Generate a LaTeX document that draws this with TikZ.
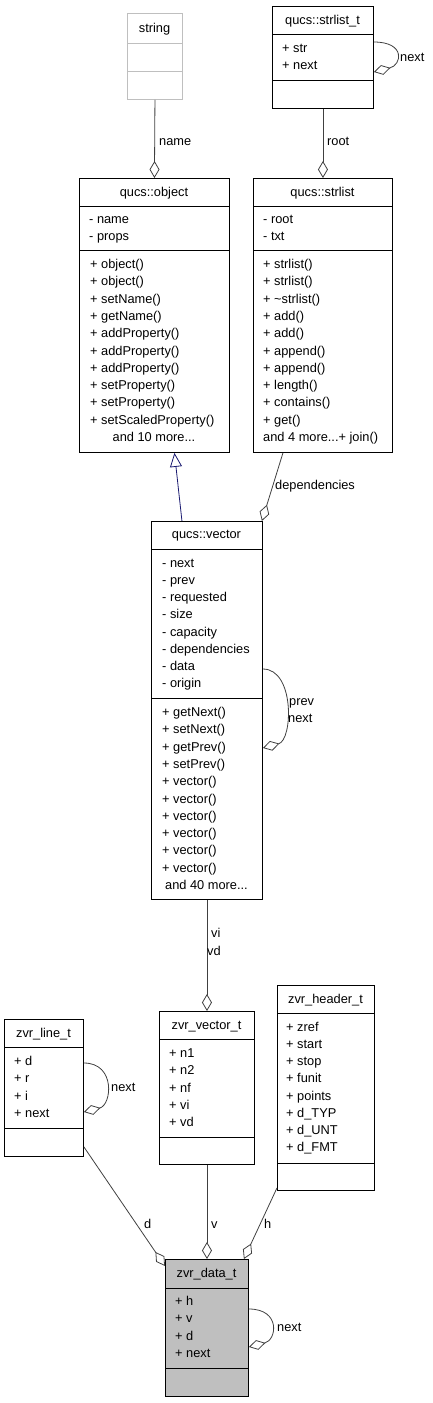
\documentclass[tikz,border=0pt]{standalone}
\usepackage{fontspec}
\setmainfont{Liberation Sans}
\usetikzlibrary{arrows.meta,calc}
\definecolor{navyline}{HTML}{191970}
\definecolor{edgegray}{HTML}{404040}

\begin{document}
\begin{tikzpicture}[x=1pt,y=-1pt,font=\fontsize{12.8}{15}\selectfont,
  cls/.style={draw=black,line width=0.9pt,fill=white,inner sep=0pt,anchor=north west},
  ttl/.style={anchor=base,inner sep=0pt},
  row/.style={anchor=base west,inner sep=0pt},
  lbl/.style={anchor=base west,inner sep=0pt},
  sep/.style={draw=black,line width=0.9pt},
  link/.style={draw=edgegray,line width=0.8pt},
  agg/.style={link,-{Diamond[open,length=17pt,width=10pt]}},
  inherit/.style={draw=navyline,line width=0.8pt,-{Triangle[open,length=14pt,width=12pt]}}]
\useasboundingbox (0,0) rectangle (432,1403);

% string
\node[cls,draw=black!25,minimum width=55pt,minimum height=86pt] (str) at (127,13) {};
\draw[sep,draw=black!25] (str.west |- 0,43) -- (str.east |- 0,43);
\draw[sep,draw=black!25] (str.west |- 0,71) -- (str.east |- 0,71);
\node[ttl] (str-n) at (154.5,32.5) {string};

% qucs::strlist_t
\node[cls,minimum width=101pt,minimum height=102pt] (slt) at (272,6) {};
\draw[sep] (slt.west |- 0,34) -- (slt.east |- 0,34);
\draw[sep] (slt.west |- 0,80) -- (slt.east |- 0,80);
\node[ttl] (slt-n) at (322.5,24.5) {qucs::strlist\_t};
\foreach \a [count=\i from 0] in {+ str,+ next}
  \node[row] (slt-a\i) at (282,52.5+16.5*\i) {\a};

% qucs::object
\node[cls,minimum width=150pt,minimum height=274pt] (obj) at (79,178) {};
\draw[sep] (obj.west |- 0,206) -- (obj.east |- 0,206);
\draw[sep] (obj.west |- 0,250) -- (obj.east |- 0,250);
\node[ttl] (obj-n) at (154,196.5) {qucs::object};
\foreach \a [count=\i from 0] in {- name,- props}
  \node[row] (obj-a\i) at (89,223.5+17*\i) {\a};
\foreach \m [count=\i from 0] in {+ object(),+ object(),+ setName(),+ getName(),
    + addProperty(),+ addProperty(),+ addProperty(),+ setProperty(),
    + setProperty(),+ setScaledProperty()}
  \node[row] (obj-m\i) at (90,268.5+17.3*\i) {\m};
\node[ttl] (obj-more) at (154,441.5) {and 10 more...};

% qucs::strlist
\node[cls,minimum width=139pt,minimum height=274pt] (stl) at (253,178) {};
\draw[sep] (stl.west |- 0,206) -- (stl.east |- 0,206);
\draw[sep] (stl.west |- 0,250) -- (stl.east |- 0,250);
\node[ttl] (stl-n) at (322.5,196.5) {qucs::strlist};
\foreach \a [count=\i from 0] in {- root,- txt}
  \node[row] (stl-a\i) at (263,223.5+17*\i) {\a};
\foreach \m [count=\i from 0] in {+ strlist(),+ strlist(),+ \textasciitilde strlist(),
    + add(),+ add(),+ append(),+ append(),+ length(),+ contains(),+ get()}
  \node[row] (stl-m\i) at (263,268.5+17.3*\i) {\m};
\node[row] (stl-more) at (263,441.5) {and 4 more...+ join()};

% qucs::vector
\node[cls,minimum width=111pt,minimum height=378pt] (vec) at (151,521) {};
\draw[sep] (vec.west |- 0,549) -- (vec.east |- 0,549);
\draw[sep] (vec.west |- 0,698) -- (vec.east |- 0,698);
\node[ttl] (vec-n) at (206.5,538.5) {qucs::vector};
\foreach \a [count=\i from 0] in {- next,- prev,- requested,- size,- capacity,
    - dependencies,- data,- origin}
  \node[row] (vec-a\i) at (162,567.5+17.14*\i) {\a};
\foreach \m [count=\i from 0] in {+ getNext(),+ setNext(),+ getPrev(),+ setPrev(),
    + vector(),+ vector(),+ vector(),+ vector(),+ vector(),+ vector()}
  \node[row] (vec-m\i) at (162,716.5+17.3*\i) {\m};
\node[ttl] (vec-more) at (206.5,889.5) {and 40 more...};

% zvr_line_t
\node[cls,minimum width=79pt,minimum height=137pt] (zvl) at (4,1019) {};
\draw[sep] (zvl.west |- 0,1047) -- (zvl.east |- 0,1047);
\draw[sep] (zvl.west |- 0,1128) -- (zvl.east |- 0,1128);
\node[ttl] (zvl-n) at (43.5,1037.5) {zvr\_line\_t};
\foreach \a [count=\i from 0] in {+ d,+ r,+ i,+ next}
  \node[row] (zvl-a\i) at (14,1065.5+17.3*\i) {\a};

% zvr_vector_t
\node[cls,minimum width=95pt,minimum height=153pt] (zvv) at (159,1011) {};
\draw[sep] (zvv.west |- 0,1039) -- (zvv.east |- 0,1039);
\draw[sep] (zvv.west |- 0,1137) -- (zvv.east |- 0,1137);
\node[ttl] (zvv-n) at (206.5,1029.5) {zvr\_vector\_t};
\foreach \a [count=\i from 0] in {+ n1,+ n2,+ nf,+ vi,+ vd}
  \node[row] (zvv-a\i) at (169,1057.5+17.3*\i) {\a};

% zvr_header_t
\node[cls,minimum width=97pt,minimum height=205pt] (zvh) at (277,985) {};
\draw[sep] (zvh.west |- 0,1013) -- (zvh.east |- 0,1013);
\draw[sep] (zvh.west |- 0,1163) -- (zvh.east |- 0,1163);
\node[ttl] (zvh-n) at (325.5,1003.5) {zvr\_header\_t};
\foreach \a [count=\i from 0] in {+ zref,+ start,+ stop,+ funit,+ points,
    + d\_TYP,+ d\_UNT,+ d\_FMT}
  \node[row] (zvh-a\i) at (286,1031.5+17.14*\i) {\a};

% zvr_data_t
\node[cls,fill=black!25,minimum width=83pt,minimum height=137pt] (zvd) at (165,1259) {};
\draw[sep] (zvd.west |- 0,1288) -- (zvd.east |- 0,1288);
\draw[sep] (zvd.west |- 0,1368) -- (zvd.east |- 0,1368);
\node[ttl] (zvd-n) at (206.5,1277.5) {zvr\_data\_t};
\foreach \a [count=\i from 0] in {+ h,+ v,+ d,+ next}
  \node[row] (zvd-a\i) at (175,1305.5+17.3*\i) {\a};

% links
\draw[agg] (str.south) -- (obj.north);
\node[lbl] (l-name) at (159,145.5) {name};
\draw[agg] (slt.south) -- (stl.north);
\node[lbl] (l-root) at (327,145.5) {root};
\draw[agg] ($(slt.north east)+(0,36)$) .. controls +(32,0) and +(28,-7) .. ($(slt.north east)+(0,66)$);
\node[lbl] (l-sltnext) at (400,61.5) {next};

\draw[inherit] ($(vec.north)+(-25,0)$) -- ($(obj.south)+(20,0)$);
\draw[agg] ($(stl.south)+(-40,0)$) -- ($(vec.north east)+(-1,0)$);
\node[lbl] (l-dep) at (275,489.5) {dependencies};
\draw[agg] ($(vec.north east)+(0,148)$) .. controls +(32,0) and +(30,-8) .. ($(vec.north east)+(0,227)$);
\node[lbl] (l-prev) at (289,705.5) {prev};
\node[lbl] (l-next) at (288,722.5) {next};

\draw[agg] (vec.south) -- (zvv.north);
\node[lbl] (l-vi) at (211,937.5) {vi};
\node[lbl] (l-vd) at (207,955.5) {vd};
\draw[agg] ($(zvl.north east)+(0,44)$) .. controls +(32,0) and +(28,-7) .. ($(zvl.north east)+(0,93)$);
\node[lbl] (l-zvlnext) at (111,1091.5) {next};

\draw[agg] ($(zvl.south east)+(0,-10)$) -- ($(zvd.north west)+(0,7)$);
\node[lbl] (l-d) at (144,1228.5) {d};
\draw[agg] (zvv.south) -- (zvd.north);
\node[lbl] (l-v) at (211,1228.5) {v};
\draw[agg] ($(zvh.south west)+(0,-3)$) -- ($(zvd.north east)+(-5,0)$);
\node[lbl] (l-h) at (264,1228.5) {h};
\draw[agg] ($(zvd.north east)+(0,50)$) .. controls +(32,0) and +(28,-7) .. ($(zvd.north east)+(0,88)$);
\node[lbl] (l-zvdnext) at (277,1331.5) {next};

\end{tikzpicture}
\end{document}
